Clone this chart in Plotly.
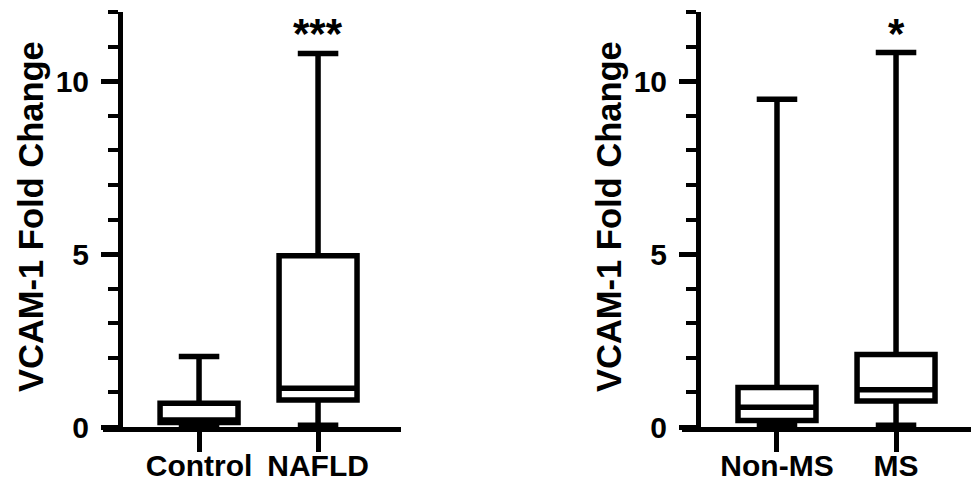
import plotly.graph_objects as go

# page has an 8px body margin; positions below are page pixels
OFF = 8
W, H = 979 - OFF, 482 - OFF

# Panel 1: Control vs NAFLD
groups_a = ["Control", "NAFLD"]
lower_a = [0.05, 0.05]
q1_a = [0.13, 0.78]
median_a = [0.2, 1.12]
q3_a = [0.69, 4.95]
upper_a = [2.04, 10.8]
sig_a = ["", "***"]

# Panel 2: Non-MS vs MS
groups_b = ["Non-MS", "MS"]
lower_b = [0.05, 0.05]
q1_b = [0.19, 0.75]
median_b = [0.57, 1.08]
q3_b = [1.14, 2.1]
upper_b = [9.48, 10.83]
sig_b = ["", "*"]

y_title = "VCAM-1 Fold Change"
y_ticks = [0, 5, 10]

FONT = "Liberation Sans, Arial, sans-serif"
LW = 5.5


def px(x):
    return (x - OFF) / W


def py(y):
    return (H - (y - OFF)) / H


fig = go.Figure()


def add_box(groups, lo, q1, med, q3, hi, xa, ya):
    fig.add_trace(go.Box(
        x=groups, lowerfence=lo, q1=q1, median=med, q3=q3, upperfence=hi,
        xaxis=xa, yaxis=ya, width=0.655, whiskerwidth=0.52,
        line=dict(color="black", width=LW), fillcolor="white",
        boxpoints=False, showlegend=False, hoverinfo="skip"))


add_box(groups_a, lower_a, q1_a, median_a, q3_a, upper_a, "x", "y")
add_box(groups_b, lower_b, q1_b, median_b, q3_b, upper_b, "x2", "y2")

ydom = [py(427), py(12)]


def xax(domain, rng):
    return dict(domain=domain, range=rng, type="category", automargin=False,
                showline=True, linewidth=5, linecolor="black",
                ticks="outside", ticklen=20, tickwidth=5, tickcolor="black",
                ticklabelstandoff=-12,
                tickfont=dict(family=FONT, size=30, color="black", weight="bold"),
                showgrid=False, zeroline=False, fixedrange=True)


def yax(pos):
    return dict(domain=ydom, range=[0, 12], anchor="free", position=pos,
                automargin=False,
                showline=True, linewidth=5, linecolor="black",
                tickmode="array", tickvals=y_ticks,
                ticks="outside", ticklen=17, tickwidth=5, tickcolor="black",
                ticklabelstandoff=6,
                minor=dict(dtick=1, ticks="outside", ticklen=10, tickwidth=4,
                           tickcolor="black", showgrid=False),
                tickfont=dict(family=FONT, size=30, color="black", weight="bold"),
                showgrid=False, zeroline=False, fixedrange=True)


fig.update_layout(
    width=W, height=H, margin=dict(l=0, r=0, t=0, b=0),
    paper_bgcolor="white", plot_bgcolor="white",
    xaxis=xax([px(103), px(401)], [-0.807, 1.697]),
    yaxis=yax(px(120)),
    xaxis2=xax([px(682), 1.0], [-0.798, 1.697]),
    yaxis2=yax(px(698)),
)
fig.layout.xaxis.anchor = "y"
fig.layout.xaxis2.anchor = "y2"

for xc in [31, 609]:
    fig.add_annotation(text=y_title, xref="paper", yref="paper",
                       x=px(xc), y=py(217), textangle=-90,
                       showarrow=False, xanchor="center", yanchor="middle",
                       font=dict(family=FONT, size=34.5, color="black", weight="bold"))

for xr, groups, sig in [("x", groups_a, sig_a), ("x2", groups_b, sig_b)]:
    for g, s in zip(groups, sig):
        if s:
            fig.add_annotation(text=s, xref=xr, yref="paper", x=g, y=1.0,
                               showarrow=False, xanchor="center", yanchor="top",
                               font=dict(family=FONT, size=42, color="black", weight="bold"))

fig.write_html("out.html")
